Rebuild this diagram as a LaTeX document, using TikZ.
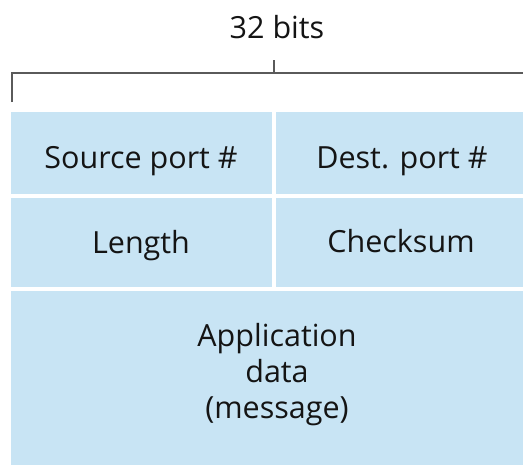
\documentclass[tikz,border=0pt]{standalone}
\usepackage{fontspec}
\setmainfont{Open Sans}
\definecolor{cellblue}{RGB}{200,228,244}
\definecolor{bracketgray}{RGB}{90,90,90}
\definecolor{txt}{RGB}{20,20,20}
\tikzset{
  cell/.style={fill=cellblue,draw=none},
  lbl/.style={text=txt,font=\fontsize{30.5}{36}\selectfont,inner sep=0pt,anchor=base},
  brk/.style={draw=bracketgray,line width=1.4pt}
}
\begin{document}
\begin{tikzpicture}[x=1pt,y=-1pt]
\useasboundingbox (0,0) rectangle (523,464);
\begin{scope}
\clip (0,0) rectangle (523,464);
\fill[cell] (11,112) rectangle (272,194);
\fill[cell] (276,112) rectangle (545,194);
\fill[cell] (11,198) rectangle (272,287);
\fill[cell] (276,198) rectangle (545,287);
\fill[cell] (11,291) rectangle (545,470);
\coordinate (bl) at (12,102);
\coordinate (bc) at (12,73);
\coordinate (br) at (545,73);
\coordinate (tm) at (274,73);
\coordinate (tt) at (274,60);
\draw[brk] (bl) -- (bc) -- (br);
\draw[brk] (tm) -- (tt);
\end{scope}
\node[lbl] (bits) at (277,38) {32 bits};
\node[lbl] (src) at (141,168) {Source port \#};
\node[lbl] (dst) at (402,168) {Dest. port \#};
\node[lbl] (len) at (141,253) {Length};
\node[lbl] (chk) at (401,252) {Checksum};
\node[lbl,align=center] (app) at (277,418) {Application\\data\\(message)};
\end{tikzpicture}
\end{document}
